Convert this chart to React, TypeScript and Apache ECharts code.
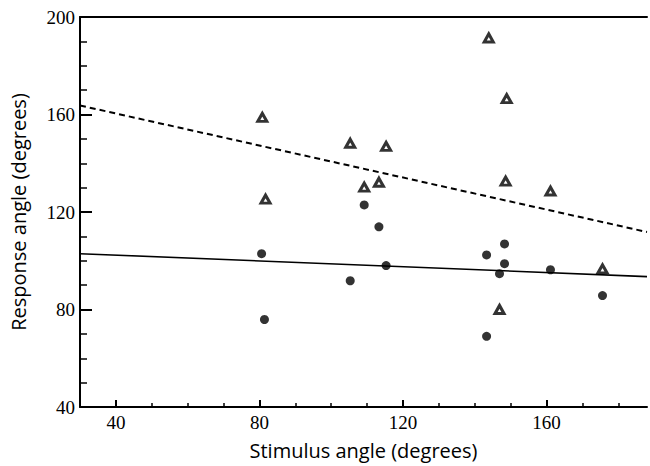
import React, { useEffect, useRef } from "react";
import * as echarts from "echarts";

// Open triangles (upper group)
const triangleX = [80.8, 81.7, 105.3, 115.3, 109.2, 113.3, 143.9, 148.9, 148.6, 161.1, 175.6, 146.9];
const triangleY = [158.8, 125.3, 148.2, 146.9, 130.2, 132.2, 191.4, 166.5, 132.7, 128.6, 96.7, 80];

// Filled circles (lower group)
const circleX = [80.6, 81.4, 105.3, 109.2, 113.3, 115.3, 143.3, 148.3, 148.3, 146.9, 161.1, 175.6, 143.3];
const circleY = [102.9, 75.9, 91.8, 122.9, 113.9, 98, 102.4, 106.9, 98.8, 94.7, 96.3, 85.7, 69];

// Fitted lines (end points)
const dashedLineX = [30, 188];
const dashedLineY = [163.7, 111.8];
const solidLineX = [30, 188];
const solidLineY = [102.9, 93.5];

const xMajorTicks = [40, 80, 120, 160];
const yMajorTicks = [40, 80, 120, 160, 200];

const zip = (xs: number[], ys: number[]) => xs.map((x, i) => [x, ys[i]]);

export default function App() {
  const ref = useRef<HTMLDivElement>(null);
  useEffect(() => {
    if (!ref.current) return;
    const chart = echarts.init(ref.current, null, { renderer: "svg" });
    const serif = "Liberation Serif";
    const tickFont = { fontFamily: serif, fontSize: 19, color: "#000" };
    chart.setOption({
      animation: false,
      backgroundColor: "#fff",
      grid: { left: 78, right: 3, top: 17, bottom: 59, containLabel: false },
      xAxis: [
        {
          type: "value",
          min: 30,
          max: 188,
          interval: 10,
          position: "bottom",
          axisLine: { show: true, onZero: false, lineStyle: { color: "#000", width: 2 } },
          axisTick: { show: true, inside: true, length: 4, lineStyle: { color: "#000", width: 1.5 } },
          axisLabel: {
            ...tickFont,
            margin: 6,
            showMinLabel: false,
            showMaxLabel: false,
            formatter: (v: number) => (xMajorTicks.includes(v) ? String(v) : ""),
          },
          splitLine: { show: false },
          name: "Stimulus angle (degrees)",
          nameLocation: "middle",
          nameGap: 33,
          nameTextStyle: { fontFamily: "Open Sans", fontSize: 20, color: "#000" },
        },
        {
          type: "value",
          min: 30,
          max: 188,
          position: "bottom",
          axisLine: { show: false, onZero: false },
          axisTick: { show: true, inside: true, length: 7, customValues: xMajorTicks, lineStyle: { color: "#000", width: 2 } },
          axisLabel: { show: false },
          splitLine: { show: false },
        },
        {
          type: "value",
          min: 30,
          max: 188,
          position: "top",
          axisLine: { show: true, onZero: false, lineStyle: { color: "#000", width: 2 } },
          axisTick: { show: false },
          axisLabel: { show: false },
          splitLine: { show: false },
        },
      ],
      yAxis: [
        {
          type: "value",
          min: 40,
          max: 200,
          interval: 10,
          axisLine: { show: true, onZero: false, lineStyle: { color: "#000", width: 2 } },
          axisTick: { show: true, inside: true, length: 7, lineStyle: { color: "#000", width: 1.5 } },
          axisLabel: {
            ...tickFont,
            margin: 5,
            formatter: (v: number) => (yMajorTicks.includes(v) ? String(v) : ""),
          },
          splitLine: { show: false },
          name: "Response angle (degrees)",
          nameLocation: "middle",
          nameGap: 52,
          nameTextStyle: { fontFamily: "Open Sans", fontSize: 20, color: "#000" },
        },
        {
          type: "value",
          min: 40,
          max: 200,
          position: "left",
          axisLine: { show: false, onZero: false },
          axisTick: { show: true, inside: true, length: 12, customValues: yMajorTicks, lineStyle: { color: "#000", width: 2 } },
          axisLabel: { show: false },
          splitLine: { show: false },
        },
      ],
      series: [
        {
          type: "line",
          data: zip(dashedLineX, dashedLineY),
          symbol: "none",
          lineStyle: { color: "#000", width: 2, type: [6, 4] },
          silent: true,
          z: 1,
        },
        {
          type: "line",
          data: zip(solidLineX, solidLineY),
          symbol: "none",
          lineStyle: { color: "#000", width: 1.6 },
          silent: true,
          z: 1,
        },
        {
          type: "scatter",
          data: zip(triangleX, triangleY),
          symbol: "triangle",
          symbolSize: [9, 8],
          itemStyle: { color: "#fff", borderColor: "#000", borderWidth: 3 },
          z: 3,
        },
        {
          type: "scatter",
          data: zip(circleX, circleY),
          symbol: "circle",
          symbolSize: 9,
          itemStyle: { color: "#000" },
          z: 3,
        },
      ],
    });
    return () => chart.dispose();
  }, []);
  return (
    <div
      ref={ref}
      style={{ position: "fixed", left: 0, top: 0, width: 650, height: 466, background: "#fff" }}
    />
  );
}
